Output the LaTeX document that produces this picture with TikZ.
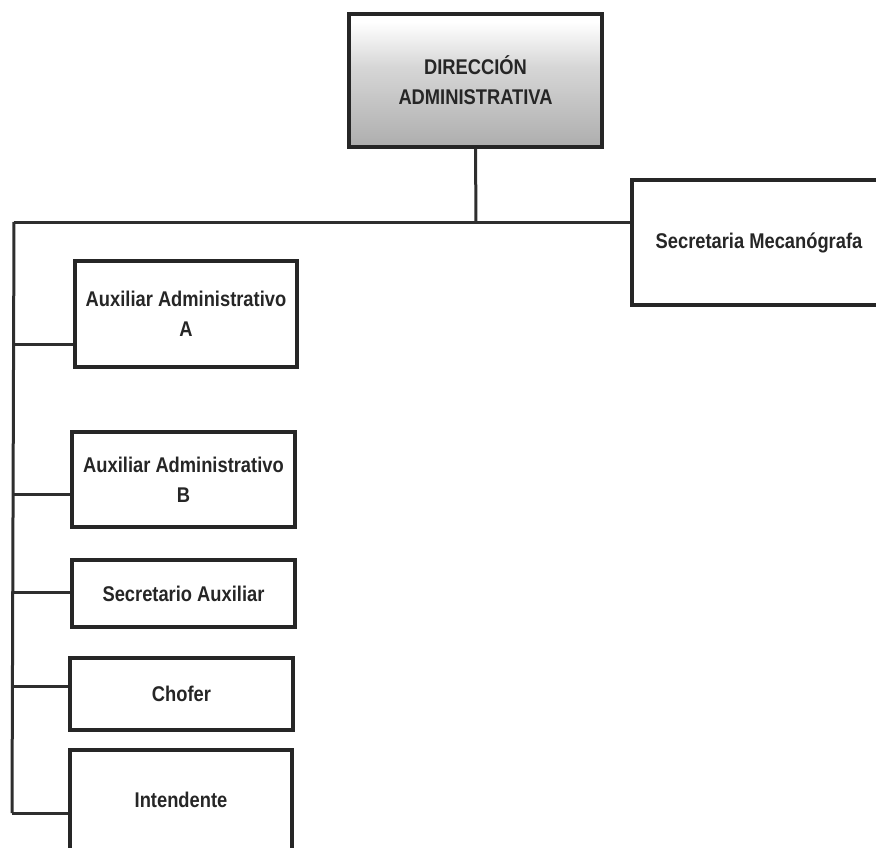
\documentclass[tikz,border=0pt]{standalone}
\usepackage{fontspec}
\setmainfont{Liberation Sans}[FakeStretch=0.86]
\usetikzlibrary{calc}
\definecolor{ink}{HTML}{262626}
\definecolor{linec}{HTML}{2e2e2e}
\pgfdeclareverticalshading{dirshade}{100bp}{color(0bp)=(gray!72); color(25bp)=(gray!64); color(55bp)=(gray!32); color(72bp)=(white); color(100bp)=(white)}
\tikzset{
  orgbox/.style={draw=ink, line width=3.6pt, fill=white, rectangle, inner sep=0pt,
    align=center, text=ink, font=\fontsize{21.3}{30}\selectfont\bfseries},
  link/.style={draw=linec, line width=3pt}
}
\begin{document}
\begin{tikzpicture}[x=1pt,y=-1pt]
\useasboundingbox (0,0) rectangle (876,848);
\clip (0,0) rectangle (876,848);
% top box
\node[orgbox, shading=dirshade, minimum width=253pt, minimum height=133pt]
  (dir) at (475.5,80.5) {DIRECCIÓN\\ADMINISTRATIVA};
% secretaria mecanografa
\node[orgbox, minimum width=254pt, minimum height=125pt] (sec) at (759,242.5) {Secretaria Mecanógrafa};
% left column
\node[orgbox, minimum width=222pt, minimum height=106pt] (auxA) at (186,314) {Auxiliar Administrativo\\A};
\node[orgbox, minimum width=223pt, minimum height=95pt] (auxB) at (183.5,479.5) {Auxiliar Administrativo\\B};
\node[orgbox, minimum width=223pt, minimum height=67pt] (secaux) at (183.5,593.5) {Secretario Auxiliar};
\node[orgbox, minimum width=223pt, minimum height=72pt] (chofer) at (181.5,694) {Chofer};
\node[orgbox, minimum width=222pt, minimum height=100pt] (inten) at (181,800) {Intendente};
% connectors
\coordinate (bus) at (476,222);
\coordinate (busL) at (14,222);
\coordinate (busB) at (12,813);
\coordinate (jA) at (14,344);
\coordinate (jB) at (13.5,494);
\coordinate (jS) at (13,592);
\coordinate (jC) at (12.5,686);
\draw[link] (dir.south) -- (bus);
\draw[link] (busL) -- (busL -| sec.west);
\draw[link] (busL) -- (busB);
\draw[link] (jA) -- (jA -| auxA.west);
\draw[link] (jB) -- (jB -| auxB.west);
\draw[link] (jS) -- (jS -| secaux.west);
\draw[link] (jC) -- (jC -| chofer.west);
\draw[link] (busB) -- (busB -| inten.west);
\end{tikzpicture}
\end{document}
